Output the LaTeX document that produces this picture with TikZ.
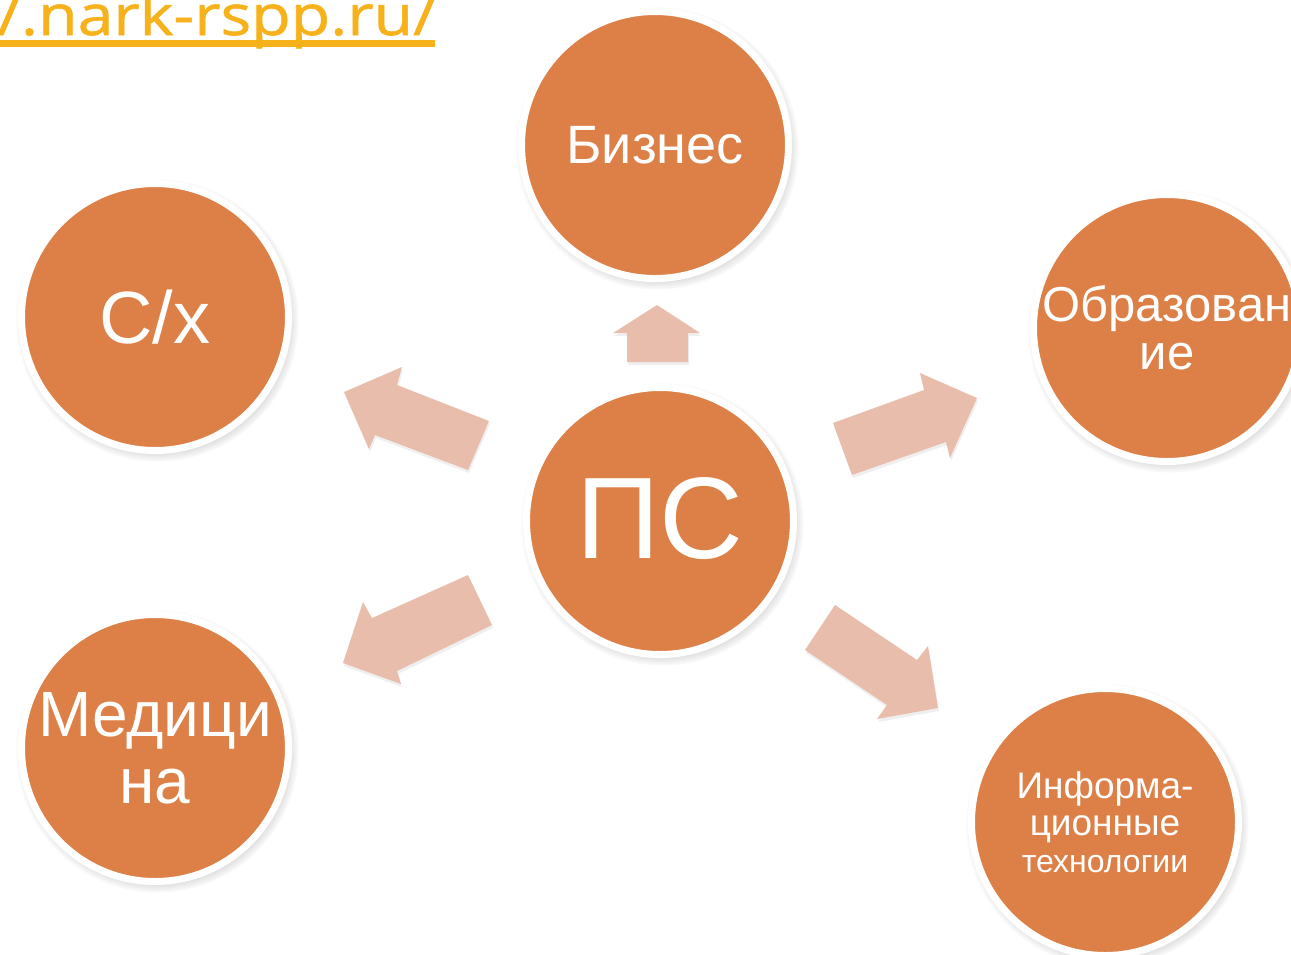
\documentclass[tikz,border=0pt]{standalone}
\usepackage{fontspec}
\setmainfont{Liberation Sans}
\newfontfamily\linkfont[FakeStretch=1.15,FakeBold=1]{Open Sans}
\usetikzlibrary{shadows,fadings}

\definecolor{discorange}{RGB}{221,128,71}
\definecolor{arrowpink}{RGB}{233,189,172}
\definecolor{linkyellow}{RGB}{247,178,27}

\tikzset{
  disc/.style={circle, fill=discorange, draw=white, line width=7pt,
    minimum size=267pt, inner sep=0pt, text=white, align=center,
    circular drop shadow={shadow scale=1.06, shadow xshift=2pt,
      shadow yshift=-3pt, opacity=0.55}},
  blockarrow/.style={fill=arrowpink, drop shadow={shadow xshift=1pt,
      shadow yshift=-3pt, opacity=0.12}}
}

\begin{document}
\begin{tikzpicture}[x=1pt,y=-1pt]
\useasboundingbox (0,0) rectangle (1291,954);
\fill[white] (0,0) rectangle (1291,954);

% link at the top
\node[anchor=base east, inner sep=0pt, text=linkyellow,
  font=\linkfont\fontsize{56}{56}\selectfont] (link) at (437,35) {/.nark-rspp.ru/};
\draw[linkyellow, line width=7pt] (0,43.5) -- (435,43.5);

% arrows
\fill[blockarrow] (657,305) -- (700,333) -- (688,333) -- (688,362) -- (627,362) -- (627,333) -- (613,333) -- cycle;
\fill[blockarrow] (344,392) -- (402,367) -- (397,385) -- (489,421) -- (468,470) -- (375,435) -- (369,449) -- cycle;
\fill[blockarrow] (977,398) -- (950,458) -- (946,442) -- (852,475) -- (833,423) -- (924,390) -- (920,373) -- cycle;
\fill[blockarrow] (343,663) -- (363,602) -- (372,618) -- (468,575) -- (492,625) -- (397,671) -- (401,684) -- cycle;
\fill[blockarrow] (938,708) -- (877,719) -- (887,705) -- (805,650) -- (835,605) -- (917,660) -- (928,646) -- cycle;

% circles
\node[disc, font=\fontsize{116}{116}\selectfont] (ps) at (660,521) {\raisebox{6pt}{ПС}};
\node[disc, font=\fontsize{54}{54}\selectfont] (biz) at (655,145) {Бизнес};
\node[disc, font=\fontsize{74}{74}\selectfont] (agro) at (155,317) {С/х};
\node[disc, font=\fontsize{49}{48}\selectfont] (edu) at (1167,328) {Образован\\ие};
\node[disc, font=\fontsize{64}{67}\selectfont] (med) at (155,748) {Медици\\на};
\node[disc, font=\fontsize{37}{37}\selectfont] (it) at (1105,822)
  {Информа-\\ционные\\{\fontsize{32}{37}\selectfont технологии}};
\end{tikzpicture}
\end{document}
